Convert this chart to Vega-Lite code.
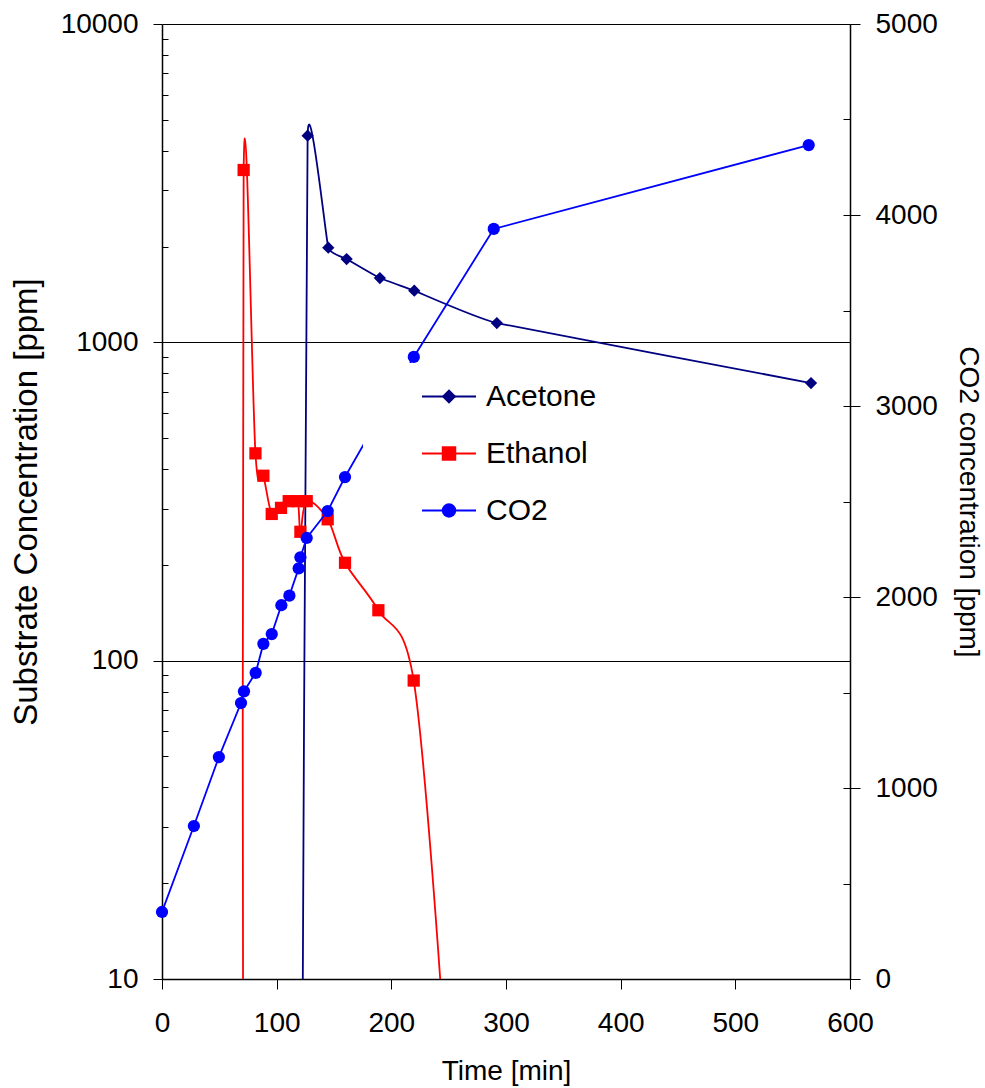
{
  "$schema": "https://vega.github.io/schema/vega-lite/v6.json",
  "width": 688,
  "height": 955,
  "autosize": {"type": "none"},
  "padding": {"left": 162, "top": 24, "right": 135, "bottom": 109},
  "background": "white",
  "config": {
    "font": "Liberation Sans",
    "view": {"stroke": null},
    "axis": {
      "labelFont": "Liberation Sans",
      "titleFont": "Liberation Sans",
      "labelColor": "black",
      "titleColor": "black",
      "tickColor": "black",
      "domainColor": "black",
      "labelFontSize": 28,
      "titleFontSize": 28,
      "titleFontWeight": "normal",
      "grid": false,
      "labelOverlap": false,
      "labelFlush": false
    }
  },
  "datasets": {
    "values": [
      {"series": "Acetone", "time": 121.5, "ppm": 1},
      {"series": "Acetone", "time": 127, "ppm": 4457},
      {"series": "Acetone", "time": 145, "ppm": 1983},
      {"series": "Acetone", "time": 161, "ppm": 1827},
      {"series": "Acetone", "time": 190, "ppm": 1592},
      {"series": "Acetone", "time": 220, "ppm": 1453},
      {"series": "Acetone", "time": 292, "ppm": 1150},
      {"series": "Acetone", "time": 566, "ppm": 745},
      {"series": "Ethanol", "time": 71, "ppm": 1},
      {"series": "Ethanol", "time": 71.2, "ppm": 3478},
      {"series": "Ethanol", "time": 81.5, "ppm": 448},
      {"series": "Ethanol", "time": 88.4, "ppm": 381},
      {"series": "Ethanol", "time": 95.7, "ppm": 289},
      {"series": "Ethanol", "time": 103.8, "ppm": 302},
      {"series": "Ethanol", "time": 110.5, "ppm": 317},
      {"series": "Ethanol", "time": 118.3, "ppm": 317},
      {"series": "Ethanol", "time": 120.7, "ppm": 254},
      {"series": "Ethanol", "time": 126.2, "ppm": 317},
      {"series": "Ethanol", "time": 144.5, "ppm": 278},
      {"series": "Ethanol", "time": 159.6, "ppm": 203},
      {"series": "Ethanol", "time": 188.7, "ppm": 144},
      {"series": "Ethanol", "time": 219.5, "ppm": 86.6},
      {"series": "Ethanol", "time": 243.5, "ppm": 9},
      {"series": "CO2", "time": 0, "ppm": 351},
      {"series": "CO2", "time": 27.8, "ppm": 801},
      {"series": "CO2", "time": 49.6, "ppm": 1162},
      {"series": "CO2", "time": 68.9, "ppm": 1445},
      {"series": "CO2", "time": 71.5, "ppm": 1506},
      {"series": "CO2", "time": 81.7, "ppm": 1603},
      {"series": "CO2", "time": 88.4, "ppm": 1755},
      {"series": "CO2", "time": 95.7, "ppm": 1806},
      {"series": "CO2", "time": 104.1, "ppm": 1957},
      {"series": "CO2", "time": 111.1, "ppm": 2007},
      {"series": "CO2", "time": 119.2, "ppm": 2150},
      {"series": "CO2", "time": 120.7, "ppm": 2208},
      {"series": "CO2", "time": 126.2, "ppm": 2309},
      {"series": "CO2", "time": 144.5, "ppm": 2450},
      {"series": "CO2", "time": 159.6, "ppm": 2628},
      {"series": "CO2", "time": 219.6, "ppm": 3257},
      {"series": "CO2", "time": 289.3, "ppm": 3927},
      {"series": "CO2", "time": 564, "ppm": 4366}
    ]
  },
  "data": {"name": "values"},
  "encoding": {
    "x": {
      "field": "time",
      "type": "quantitative",
      "scale": {"domain": [0, 600], "nice": false, "zero": false},
      "axis": {
        "values": [0, 100, 200, 300, 400, 500, 600],
        "tickSize": 10,
        "labelPadding": 20,
        "title": "Time [min]",
        "titlePadding": 20,
        "domainWidth": 1.5
      }
    }
  },
  "layer": [
    {
      "transform": [{"filter": {"field": "series", "oneOf": ["Acetone", "Ethanol"]}}],
      "layer": [
        {
          "transform": [{"filter": {"field": "series", "equal": "Acetone"}}],
          "mark": {"type": "line", "interpolate": "cardinal", "tension": 0.69, "strokeWidth": 1.8, "clip": true},
          "encoding": {
            "y": {
              "field": "ppm",
              "type": "quantitative",
              "scale": {"type": "log", "domain": [10, 10000], "nice": false},
              "axis": {
                "orient": "left",
                "values": [10, 100, 1000, 10000],
                "format": "d",
                "tickSize": 9,
                "labelPadding": 15,
                "grid": true,
                "gridColor": "black",
                "gridOpacity": 1,
                "gridWidth": 1,
                "domainWidth": 1.5,
                "title": "Substrate Concentration [ppm]",
                "titleFontSize": 33,
                "titlePadding": 17
              }
            },
            "color": {
              "field": "series",
              "type": "nominal",
              "scale": {"domain": ["Acetone", "CO2", "Ethanol"], "range": ["#000080", "#0000ff", "#ff0000"]},
              "legend": {
                "orient": "none", "legendX": 201, "legendY": 339, "title": null,
                "fillColor": "white", "padding": 5,
                "values": ["Acetone", "Ethanol", "CO2"],
                "symbolType": "stroke", "symbolSize": 2916, "symbolStrokeWidth": 1.8,
                "symbolOffset": 53, "labelOffset": 9,
                "labelFontSize": 30, "labelFont": "Liberation Sans", "labelColor": "black",
                "clipHeight": 57, "rowPadding": 0
              }
            }
          }
        },
        {
          "transform": [{"filter": {"field": "series", "equal": "Ethanol"}}],
          "mark": {"type": "line", "interpolate": "cardinal", "tension": 0, "strokeWidth": 1.8, "clip": true},
          "encoding": {
            "y": {
              "field": "ppm",
              "type": "quantitative",
              "scale": {"type": "log", "domain": [10, 10000], "nice": false},
              "axis": null
            },
            "color": {
              "field": "series",
              "type": "nominal",
              "scale": {"domain": ["Acetone", "CO2", "Ethanol"], "range": ["#000080", "#0000ff", "#ff0000"]},
              "legend": {
                "orient": "none", "legendX": 201, "legendY": 339, "title": null,
                "fillColor": "white", "padding": 5,
                "values": ["Acetone", "Ethanol", "CO2"],
                "symbolType": "stroke", "symbolSize": 2916, "symbolStrokeWidth": 1.8,
                "symbolOffset": 53, "labelOffset": 9,
                "labelFontSize": 30, "labelFont": "Liberation Sans", "labelColor": "black",
                "clipHeight": 57, "rowPadding": 0
              }
            }
          }
        },
        {
          "transform": [{"filter": "datum.ppm >= 10"}],
          "mark": {"type": "point", "filled": true, "opacity": 1, "size": 150},
          "encoding": {
            "y": {
              "field": "ppm",
              "type": "quantitative",
              "scale": {"type": "log", "domain": [10, 10000], "nice": false},
              "axis": {
                "orient": "left",
                "values": [20, 30, 40, 50, 60, 70, 80, 90, 200, 300, 400, 500, 600, 700, 800, 900, 2000, 3000, 4000, 5000, 6000, 7000, 8000, 9000],
                "tickSize": -6,
                "labels": false,
                "domain": false,
                "grid": false,
                "title": null
              }
            },
            "fill": {
              "field": "series",
              "type": "nominal",
              "scale": {"domain": ["Acetone", "Ethanol", "CO2"], "range": ["#000080", "#ff0000", "#0000ff"]},
              "legend": {
                "orient": "none", "legendX": 201, "legendY": 339, "title": null,
                "padding": 5, "zindex": 1,
                "symbolSize": 210, "symbolStrokeWidth": 0,
                "symbolOffset": 66, "labelExpr": "''",
                "labelFontSize": 30,
                "clipHeight": 57, "rowPadding": 0
              }
            },
            "shape": {
              "field": "series",
              "type": "nominal",
              "scale": {"domain": ["Acetone", "Ethanol", "CO2"], "range": ["diamond", "square", "circle"]},
              "legend": {
                "orient": "none", "legendX": 201, "legendY": 339, "title": null,
                "padding": 5, "zindex": 1,
                "symbolSize": 210, "symbolStrokeWidth": 0,
                "symbolOffset": 66, "labelExpr": "''",
                "labelFontSize": 30,
                "clipHeight": 57, "rowPadding": 0
              }
            }
          }
        }
      ],
      "resolve": {"axis": {"y": "independent"}}
    },
    {
      "transform": [{"filter": {"field": "series", "equal": "CO2"}}],
      "layer": [
        {
          "mark": {"type": "line", "strokeWidth": 1.8, "clip": true},
          "encoding": {
            "y": {
              "field": "ppm",
              "type": "quantitative",
              "scale": {"domain": [0, 5000], "nice": false},
              "axis": {
                "orient": "right",
                "values": [0, 1000, 2000, 3000, 4000, 5000],
                "format": "d",
                "tickSize": 10,
                "labelPadding": 15,
                "domainWidth": 1.5,
                "title": "CO2 concentration [ppm]",
                "titleFontSize": 28,
                "titlePadding": 16
              }
            },
            "color": {
              "field": "series",
              "type": "nominal",
              "scale": {"domain": ["Acetone", "CO2", "Ethanol"], "range": ["#000080", "#0000ff", "#ff0000"]},
              "legend": {
                "orient": "none", "legendX": 201, "legendY": 339, "title": null,
                "fillColor": "white", "padding": 5,
                "values": ["Acetone", "Ethanol", "CO2"],
                "symbolType": "stroke", "symbolSize": 2916, "symbolStrokeWidth": 1.8,
                "symbolOffset": 53, "labelOffset": 9,
                "labelFontSize": 30, "labelFont": "Liberation Sans", "labelColor": "black",
                "clipHeight": 57, "rowPadding": 0
              }
            }
          }
        },
        {
          "mark": {"type": "point", "filled": true, "opacity": 1, "size": 150},
          "encoding": {
            "y": {
              "field": "ppm",
              "type": "quantitative",
              "scale": {"domain": [0, 5000], "nice": false},
              "axis": {
                "orient": "right",
                "values": [0, 500, 1000, 1500, 2000, 2500, 3000, 3500, 4000, 4500, 5000],
                "tickSize": -7,
                "labels": false,
                "domain": false,
                "grid": false,
                "title": null
              }
            },
            "fill": {
              "field": "series",
              "type": "nominal",
              "scale": {"domain": ["Acetone", "Ethanol", "CO2"], "range": ["#000080", "#ff0000", "#0000ff"]},
              "legend": {
                "orient": "none", "legendX": 201, "legendY": 339, "title": null,
                "padding": 5, "zindex": 1,
                "symbolSize": 210, "symbolStrokeWidth": 0,
                "symbolOffset": 66, "labelExpr": "''",
                "labelFontSize": 30,
                "clipHeight": 57, "rowPadding": 0
              }
            },
            "shape": {
              "field": "series",
              "type": "nominal",
              "scale": {"domain": ["Acetone", "Ethanol", "CO2"], "range": ["diamond", "square", "circle"]},
              "legend": {
                "orient": "none", "legendX": 201, "legendY": 339, "title": null,
                "padding": 5, "zindex": 1,
                "symbolSize": 210, "symbolStrokeWidth": 0,
                "symbolOffset": 66, "labelExpr": "''",
                "labelFontSize": 30,
                "clipHeight": 57, "rowPadding": 0
              }
            }
          }
        }
      ],
      "resolve": {"axis": {"y": "independent"}}
    }
  ],
  "resolve": {"scale": {"y": "independent"}}
}
